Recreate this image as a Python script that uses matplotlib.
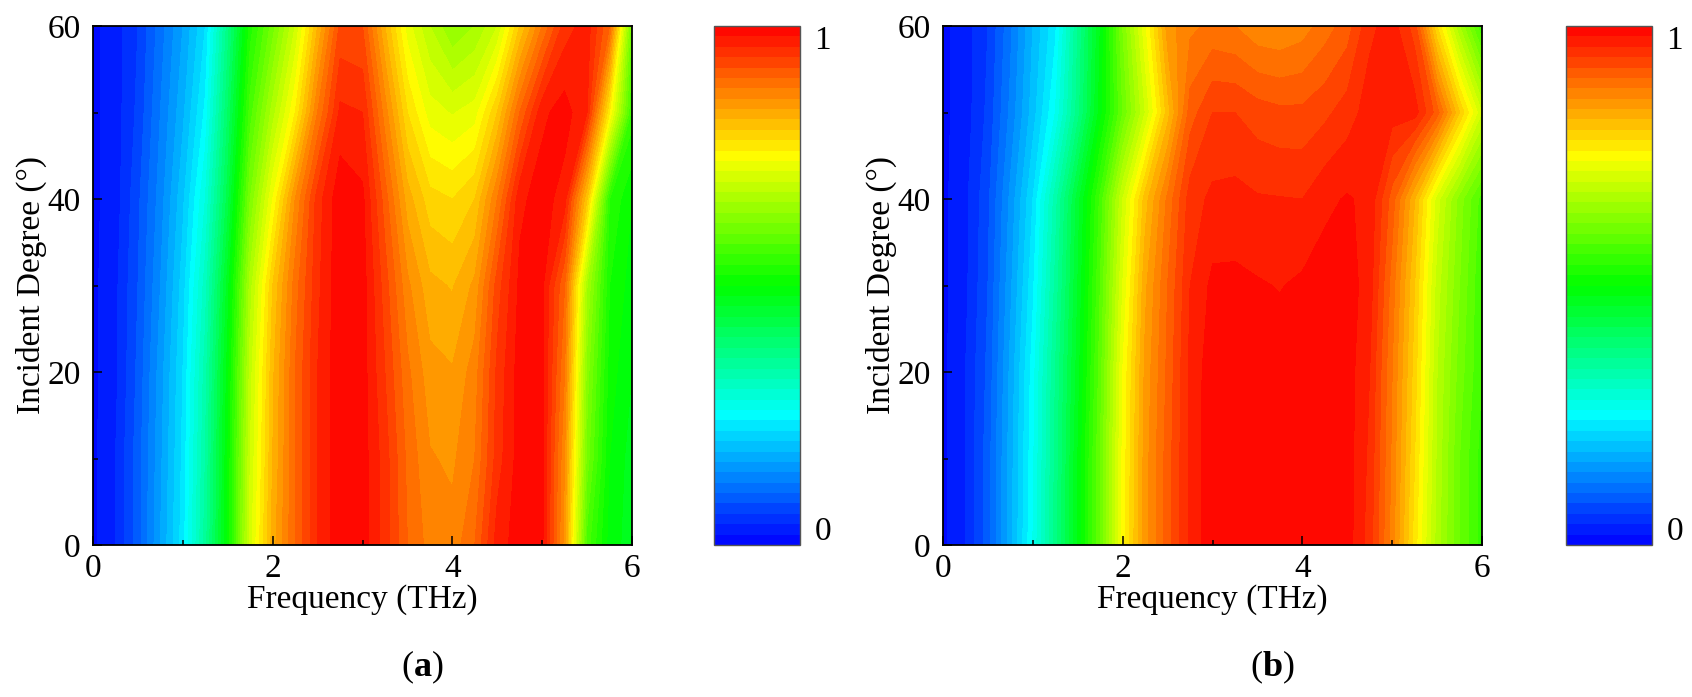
import numpy as np
import matplotlib.pyplot as plt
from matplotlib.colors import LinearSegmentedColormap

# grid: frequency (THz) x incident angle (deg)
freq = [0.0, 0.25, 0.5, 0.75, 1.0, 1.25, 1.5, 1.75, 2.0, 2.25, 2.5, 2.75, 3.0,
        3.25, 3.5, 3.75, 4.0, 4.25, 4.5, 4.75, 5.0, 5.25, 5.5, 5.75, 6.0]
angles = [0, 10, 20, 30, 40, 50, 60]

# absorption, panel (a), one row per angle
absorb_a = [
    [0.015, 0.04, 0.09, 0.16, 0.23, 0.35, 0.50, 0.71, 0.83, 0.90, 0.96, 0.995, 0.99,
     0.95, 0.90, 0.872, 0.868, 0.90, 0.97, 0.99, 0.985, 0.85, 0.57, 0.49, 0.47],
    [0.015, 0.04, 0.09, 0.155, 0.225, 0.34, 0.50, 0.70, 0.82, 0.90, 0.96, 0.995, 0.99,
     0.95, 0.895, 0.862, 0.856, 0.88, 0.95, 0.99, 0.985, 0.86, 0.61, 0.50, 0.47],
    [0.015, 0.035, 0.085, 0.15, 0.22, 0.33, 0.49, 0.69, 0.815, 0.90, 0.96, 0.995, 0.99,
     0.94, 0.885, 0.848, 0.842, 0.87, 0.945, 0.99, 0.985, 0.88, 0.63, 0.51, 0.48],
    [0.015, 0.035, 0.08, 0.14, 0.21, 0.31, 0.47, 0.67, 0.80, 0.89, 0.955, 0.995, 0.99,
     0.93, 0.865, 0.826, 0.818, 0.845, 0.93, 0.985, 0.985, 0.90, 0.66, 0.52, 0.49],
    [0.015, 0.03, 0.075, 0.13, 0.195, 0.28, 0.43, 0.62, 0.74, 0.86, 0.95, 0.995, 0.985,
     0.91, 0.83, 0.788, 0.78, 0.80, 0.88, 0.975, 0.99, 0.97, 0.80, 0.54, 0.50],
    [0.015, 0.03, 0.065, 0.12, 0.175, 0.245, 0.40, 0.57, 0.67, 0.76, 0.88, 0.965, 0.96,
     0.87, 0.78, 0.73, 0.718, 0.73, 0.80, 0.90, 0.975, 0.99, 0.96, 0.76, 0.55],
    [0.015, 0.03, 0.06, 0.11, 0.16, 0.22, 0.37, 0.53, 0.61, 0.70, 0.82, 0.925, 0.92,
     0.82, 0.73, 0.68, 0.64, 0.66, 0.70, 0.80, 0.88, 0.95, 0.97, 0.90, 0.60],
]

# absorption, panel (b)
absorb_b = [
    [0.015, 0.04, 0.09, 0.17, 0.26, 0.37, 0.48, 0.60, 0.75, 0.85, 0.91, 0.965, 0.995,
     0.995, 0.995, 0.995, 0.995, 0.995, 0.99, 0.95, 0.87, 0.77, 0.67, 0.60, 0.55],
    [0.015, 0.04, 0.09, 0.17, 0.255, 0.365, 0.48, 0.60, 0.745, 0.85, 0.91, 0.965, 0.995,
     0.995, 0.995, 0.995, 0.995, 0.995, 0.99, 0.955, 0.875, 0.78, 0.675, 0.60, 0.55],
    [0.015, 0.04, 0.085, 0.165, 0.25, 0.36, 0.47, 0.59, 0.74, 0.845, 0.905, 0.965, 0.993,
     0.993, 0.992, 0.99, 0.993, 0.995, 0.99, 0.96, 0.88, 0.79, 0.68, 0.61, 0.56],
    [0.015, 0.035, 0.08, 0.155, 0.235, 0.345, 0.46, 0.58, 0.72, 0.835, 0.90, 0.96, 0.985,
     0.985, 0.982, 0.979, 0.984, 0.99, 0.99, 0.97, 0.89, 0.80, 0.69, 0.62, 0.56],
    [0.015, 0.035, 0.075, 0.145, 0.22, 0.33, 0.45, 0.565, 0.70, 0.81, 0.885, 0.95, 0.965,
     0.967, 0.962, 0.961, 0.96, 0.975, 0.982, 0.975, 0.91, 0.82, 0.71, 0.63, 0.57],
    [0.015, 0.03, 0.065, 0.125, 0.19, 0.26, 0.37, 0.49, 0.60, 0.70, 0.81, 0.91, 0.94,
     0.94, 0.93, 0.925, 0.925, 0.935, 0.95, 0.97, 0.97, 0.97, 0.91, 0.80, 0.70],
    [0.015, 0.03, 0.06, 0.115, 0.18, 0.235, 0.36, 0.48, 0.62, 0.735, 0.85, 0.875, 0.885,
     0.88, 0.865, 0.862, 0.87, 0.89, 0.91, 0.955, 0.97, 0.93, 0.78, 0.66, 0.56],
]

plt.rcParams['font.family'] = 'Liberation Serif'
plt.rcParams['mathtext.fontset'] = 'custom'
plt.rcParams['mathtext.rm'] = 'Liberation Serif'
plt.rcParams['mathtext.bf'] = 'Liberation Serif:bold'

W, H = 1692, 697
cmap = LinearSegmentedColormap.from_list(
    'rainbow5', ['#0000ff', '#00ffff', '#00ff00', '#ffff00', '#ff0000'])
levels = np.linspace(0, 1, 51)


def box(x0, y0, w, h):
    return [x0 / W, 1 - (y0 + h) / H, w / W, h / H]


fig = plt.figure(figsize=(W / 100, H / 100), dpi=100)

panels = [(absorb_a, 93, 714, r'($\mathbf{a}$)', 422),
          (absorb_b, 943, 1566, r'($\mathbf{b}$)', 1272)]

for z, ax_left, cb_left, tag, tag_x in panels:
    ax = fig.add_axes(box(ax_left, 26, 539, 519))
    cs = ax.contourf(freq, angles, np.array(z), levels=levels, cmap=cmap,
                     vmin=0, vmax=1)
    ax.set_xlim(0, 6)
    ax.set_ylim(0, 60)
    ax.set_xticks([0, 2, 4, 6])
    ax.set_xticks([1, 3, 5], minor=True)
    ax.set_yticks([0, 20, 40, 60])
    ax.set_yticks([10, 30, 50], minor=True)
    ax.tick_params(which='both', direction='in', labelsize=24, width=1.1)
    ax.tick_params(which='major', length=6.5)
    ax.tick_params(which='minor', length=3.5)
    ax.tick_params(axis='x', pad=6)
    ax.tick_params(axis='y', pad=9)
    for sp in ax.spines.values():
        sp.set_linewidth(1.3)
    ax.set_xlabel('Frequency (THz)', fontsize=24, labelpad=0)
    ax.set_ylabel('Incident Degree (°)', fontsize=24)
    ax.yaxis.set_label_coords(-0.085, 0.5)

    cax = fig.add_axes(box(cb_left, 26, 86, 519))
    cb = fig.colorbar(cs, cax=cax, ticks=[])
    cb.outline.set_edgecolor('#555555')
    cb.outline.set_linewidth(1.0)
    cax.text(1.17, 0.972, '1', transform=cax.transAxes, va='center', ha='left', fontsize=24)
    cax.text(1.17, 0.025, '0', transform=cax.transAxes, va='center', ha='left', fontsize=24)

    fig.text(tag_x / W, 1 - 667 / H, tag, ha='center', va='center', fontsize=26)

fig.savefig('out.png', dpi=100)
